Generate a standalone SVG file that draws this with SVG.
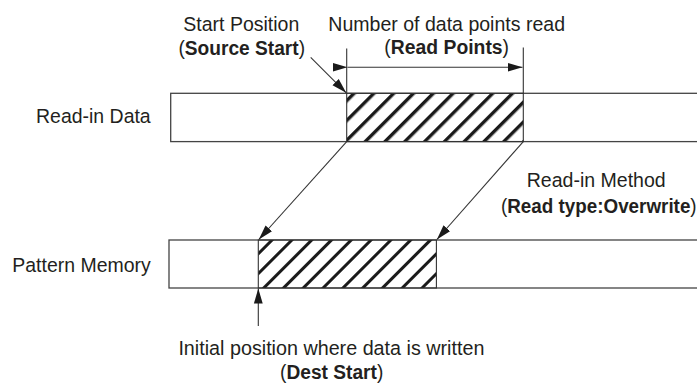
<svg xmlns="http://www.w3.org/2000/svg" width="697" height="388" viewBox="0 0 697 388">
<style>
text{font-family:"Liberation Sans",Arial,sans-serif;font-size:20.5px;fill:#231f20}
.b{font-weight:bold}
.bar{fill:#fff;stroke:#444;stroke-width:1.3}
.ln{stroke:#333;stroke-width:1.1;fill:none}
</style>
<defs>
<pattern id="h1" patternUnits="userSpaceOnUse" width="14" height="14" patternTransform="translate(9.5,0) rotate(45)">
<rect x="0" y="0" width="3.4" height="14" fill="#1a1a1a"/>
</pattern>
<pattern id="h2" patternUnits="userSpaceOnUse" width="14" height="14" patternTransform="translate(15,0) rotate(45)">
<rect x="0" y="0" width="3" height="14" fill="#1a1a1a"/>
</pattern>
<marker id="ar" markerUnits="userSpaceOnUse" markerWidth="16" markerHeight="10" viewBox="0 0 16 10" refX="15" refY="5" orient="auto">
<path d="M0,0.6 L15,5 L0,9.4 Z" fill="#1a1a1a"/>
</marker>
</defs>

<g id="read-in-data">
<rect class="bar" x="170.7" y="93.3" width="540" height="48.3"/>
<rect x="346.7" y="93.3" width="176.6" height="48.3" fill="url(#h1)" stroke="#333" stroke-width="1.1"/>
<text x="150.7" y="123.3" text-anchor="end" textLength="114.7" lengthAdjust="spacingAndGlyphs">Read-in Data</text>
</g>

<g id="pattern-memory">
<rect class="bar" x="169" y="240" width="540" height="48"/>
<rect x="258.3" y="240" width="178.1" height="48" fill="url(#h2)" stroke="#333" stroke-width="1.1"/>
<text x="150.7" y="271.7" text-anchor="end" textLength="138.4" lengthAdjust="spacingAndGlyphs">Pattern Memory</text>
</g>

<g id="labels">
<text x="241.3" y="30.5" text-anchor="middle" textLength="116" lengthAdjust="spacingAndGlyphs">Start Position</text>
<text transform="translate(241.7,54.5) scale(0.935,1)" text-anchor="middle">(<tspan class="b">Source Start</tspan>)</text>
<text x="446.7" y="30.5" text-anchor="middle" textLength="236.7" lengthAdjust="spacingAndGlyphs">Number of data points read</text>
<text transform="translate(446.7,54) scale(0.944,1)" text-anchor="middle">(<tspan class="b">Read Points</tspan>)</text>
<text x="596.2" y="187.3" text-anchor="middle" textLength="139" lengthAdjust="spacingAndGlyphs">Read-in Method</text>
<text transform="translate(598.8,213.3) scale(0.919,1)" text-anchor="middle">(<tspan class="b">Read type:Overwrite</tspan>)</text>
<text x="331.4" y="355" text-anchor="middle" textLength="306" lengthAdjust="spacingAndGlyphs">Initial position where data is written</text>
<text transform="translate(331.7,379) scale(0.935,1)" text-anchor="middle">(<tspan class="b">Dest Start</tspan>)</text>
</g>

<g id="connectors">
<line class="ln" x1="346.7" y1="48.5" x2="346.7" y2="93.3"/>
<line class="ln" x1="523.3" y1="47.5" x2="523.3" y2="93.3"/>
<line class="ln" x1="347.5" y1="67.3" x2="522.5" y2="67.3" marker-start="url(#ar)" marker-end="url(#ar)"/>
<line class="ln" x1="310.7" y1="57.3" x2="346.2" y2="92.8" marker-end="url(#ar)"/>
<line class="ln" x1="346.7" y1="141.6" x2="258.8" y2="239.5" marker-end="url(#ar)"/>
<line class="ln" x1="523.3" y1="141.6" x2="436.9" y2="239.5" marker-end="url(#ar)"/>
<line class="ln" x1="258.3" y1="326" x2="258.3" y2="288.6" marker-end="url(#ar)"/>
</g>
</svg>
